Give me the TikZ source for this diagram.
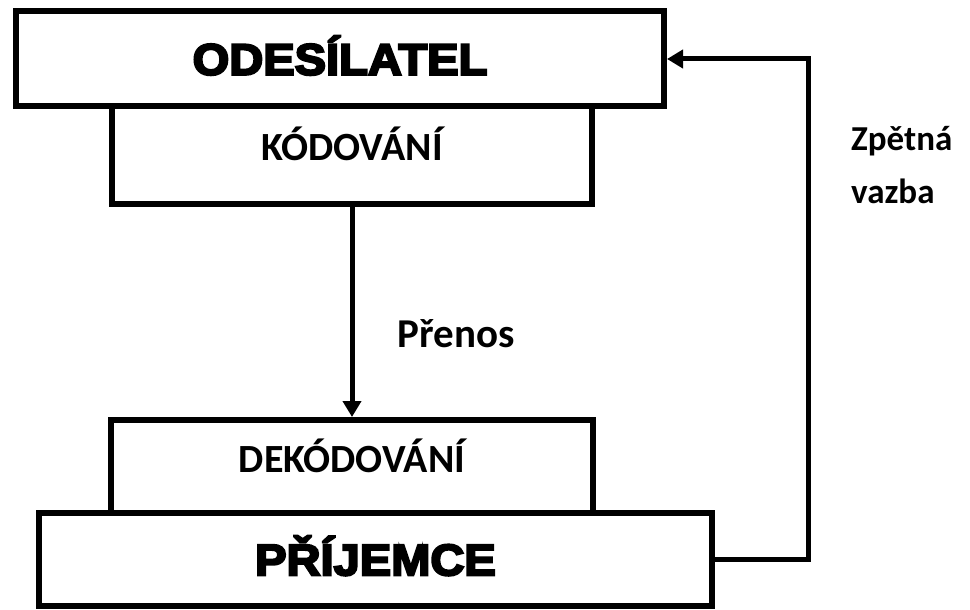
\documentclass[tikz,border=0pt]{standalone}
\usepackage{fontspec}
\usetikzlibrary{arrows.meta}
\newfontfamily\headfont{Liberation Sans}[FakeStretch=1.07,BoldFeatures={FakeBold=5}]
\newfontfamily\labelfont{Carlito}

\begin{document}
\begin{tikzpicture}[x=1pt, y=-1pt,
    box/.style = {draw, line width = 6pt, inner sep = 0pt},
    head/.style = {font = \headfont\bfseries\fontsize{44}{44}\selectfont, text height = 31.5pt, text depth = 0pt},
    stage/.style = {font = \labelfont\bfseries\fontsize{40}{40}\selectfont, text height = 25pt, text depth = 14pt},
    arr/.style = {line width = 5pt, -{Triangle[length=16pt, width=18pt]}}]
    \useasboundingbox (0,0) rectangle (970,610);

    \node[box, stage, minimum width = 480pt, minimum height = 97pt] (kod) at (352,155) {KÓDOVÁNÍ};
    \node[box, head, minimum width = 648pt, minimum height = 95pt] (odes) at (340,59) {ODESÍLATEL};

    \node[box, stage, minimum width = 482pt, minimum height = 93pt] (dekod) at (352,466.5) {DEKÓDOVÁNÍ};
    \node[box, head, minimum width = 673pt, minimum height = 93pt] (prij) at (375.5,559.5) {PŘÍJEMCE};

    \node[font = \labelfont\bfseries\fontsize{41}{41}\selectfont] (prenos) at (456,334) {Přenos};
    \node[anchor = north west, align = left, inner sep = 0pt, font = \labelfont\bfseries\fontsize{35}{53}\selectfont] (zpet) at (851,126) {Zpětná\\vazba};

    \coordinate (fb) at (808,59);

    \draw[arr] (kod.south) -- (dekod.north);
    \draw[arr] (prij.east) -| (fb) -- (odes.east);

\end{tikzpicture}
\end{document}
